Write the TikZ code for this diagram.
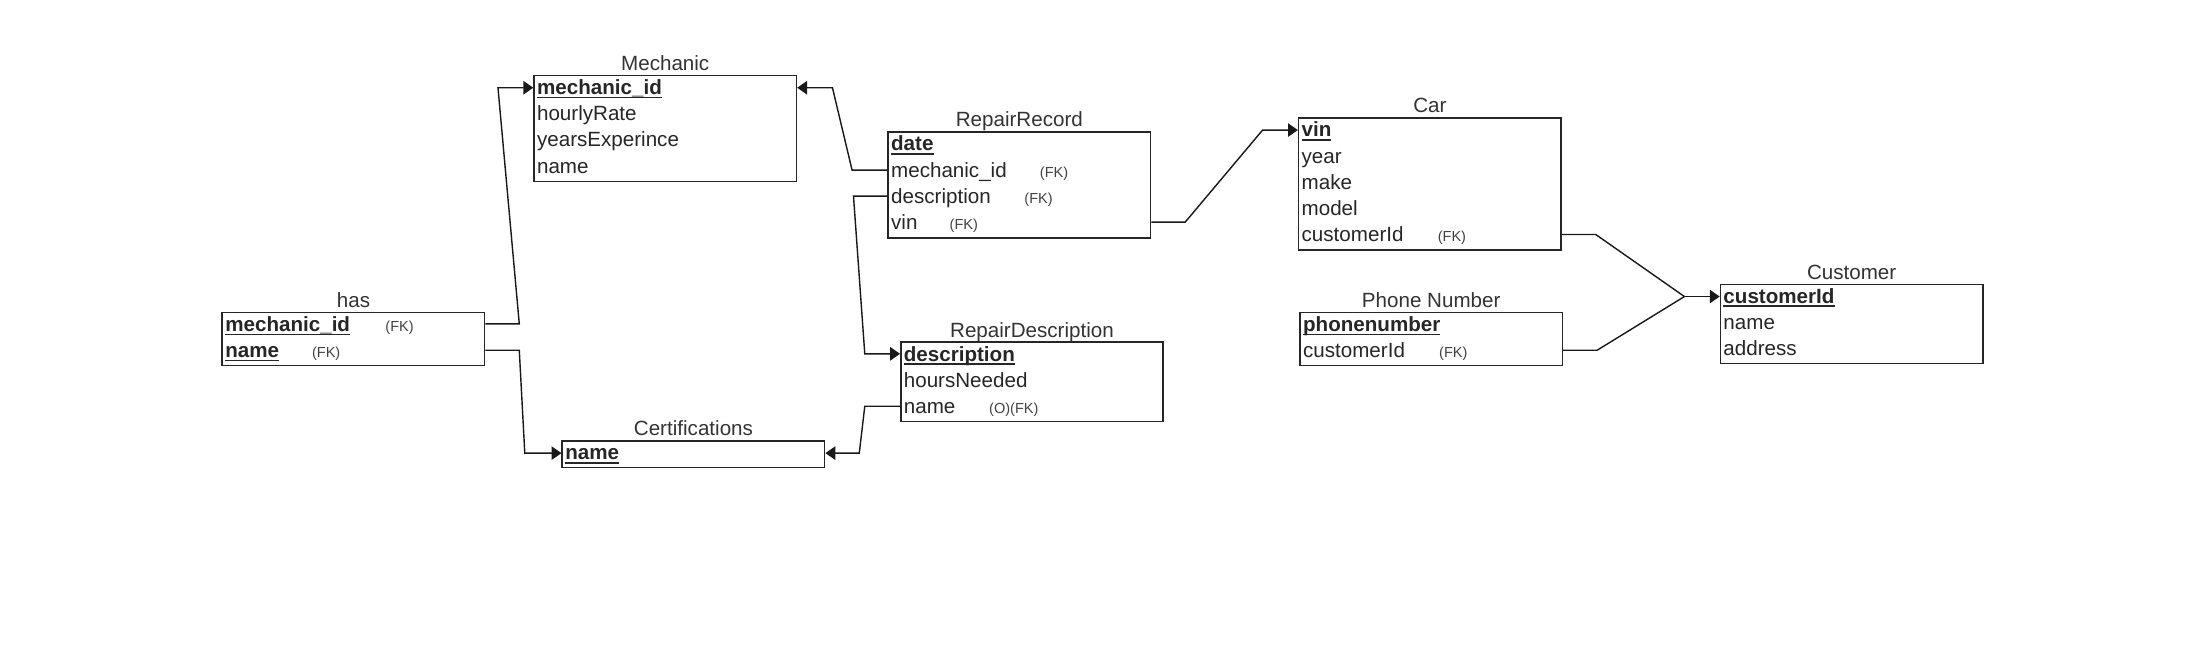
\documentclass[tikz,border=0pt]{standalone}
\usepackage{fontspec}
\setmainfont{Liberation Sans}
\usetikzlibrary{calc,arrows.meta}
\newcommand{\keyf}[1]{\setbox0\hbox{\bfseries #1}\rlap{\rule[-2.6pt]{\wd0}{1.1pt}}\box0}
\tikzset{
  box/.style={draw=black!85, line width=1.1pt, minimum width=186pt, inner sep=0pt, anchor=north west},
  ttl/.style={font=\fontsize{14.6}{15}\selectfont, text=black!80, anchor=base, inner sep=0pt},
  fld/.style={font=\fontsize{14.6}{15}\selectfont, text=black!85, anchor=base west, inner sep=0pt},
  fk/.style={font=\fontsize{10.3}{11}\selectfont, text=black!75, anchor=base west, inner sep=0pt},
  conn/.style={line width=1pt, draw=black!90},
  arr/.style={conn, -{Triangle[length=7pt,width=9.5pt]}}
}
\begin{document}
\begin{tikzpicture}[x=1pt,y=-1pt]
\useasboundingbox (0,0) rectangle (1568,468);
% ---------- Mechanic
\node[box, minimum height=75pt] (mech) at (378,53) {};
\node[ttl] (mech-t) at ($(mech.north)+(0,-3)$) {Mechanic};
\node[fld] (mech-1) at ($(mech.north west)+(2.5,14)$) {\keyf{mechanic\_id}};
\node[fld] (mech-2) at ($(mech.north west)+(2.5,32.6)$) {hourlyRate};
\node[fld] (mech-3) at ($(mech.north west)+(2.5,51.2)$) {yearsExperince};
\node[fld] (mech-4) at ($(mech.north west)+(2.5,69.8)$) {name};
% ---------- has
\node[box, minimum height=37.5pt] (has) at (157,221) {};
\node[ttl] (has-t) at ($(has.north)+(0,-3)$) {has};
\node[fld] (has-1) at ($(has.north west)+(2.5,14)$) {\keyf{mechanic\_id}};
\node[fk] (has-1fk) at ($(has.north west)+(116,14)$) {(FK)};
\node[fld] (has-2) at ($(has.north west)+(2.5,32.6)$) {\keyf{name}};
\node[fk] (has-2fk) at ($(has.north west)+(64,32.6)$) {(FK)};
% ---------- Certifications
\node[box, minimum height=18.75pt] (cert) at (398,312) {};
\node[ttl] (cert-t) at ($(cert.north)+(0,-3)$) {Certifications};
\node[fld] (cert-1) at ($(cert.north west)+(2.5,14)$) {\keyf{name}};
% ---------- RepairRecord
\node[box, minimum height=75pt] (rr) at (629,93) {};
\node[ttl] (rr-t) at ($(rr.north)+(0,-3)$) {RepairRecord};
\node[fld] (rr-1) at ($(rr.north west)+(2.5,14)$) {\keyf{date}};
\node[fld] (rr-2) at ($(rr.north west)+(2.5,32.6)$) {mechanic\_id};
\node[fk] (rr-2fk) at ($(rr.north west)+(108,32.6)$) {(FK)};
\node[fld] (rr-3) at ($(rr.north west)+(2.5,51.2)$) {description};
\node[fk] (rr-3fk) at ($(rr.north west)+(97,51.2)$) {(FK)};
\node[fld] (rr-4) at ($(rr.north west)+(2.5,69.8)$) {vin};
\node[fk] (rr-4fk) at ($(rr.north west)+(44,69.8)$) {(FK)};
% ---------- RepairDescription
\node[box, minimum height=56.25pt] (rd) at (638,242) {};
\node[ttl] (rd-t) at ($(rd.north)+(0,-3)$) {RepairDescription};
\node[fld] (rd-1) at ($(rd.north west)+(2.5,14)$) {\keyf{description}};
\node[fld] (rd-2) at ($(rd.north west)+(2.5,32.6)$) {hoursNeeded};
\node[fld] (rd-3) at ($(rd.north west)+(2.5,51.2)$) {name};
\node[fk] (rd-3fk) at ($(rd.north west)+(63,51.2)$) {(O)(FK)};
% ---------- Car
\node[box, minimum height=93.75pt] (car) at (920,83) {};
\node[ttl] (car-t) at ($(car.north)+(0,-3)$) {Car};
\node[fld] (car-1) at ($(car.north west)+(2.5,14)$) {\keyf{vin}};
\node[fld] (car-2) at ($(car.north west)+(2.5,32.6)$) {year};
\node[fld] (car-3) at ($(car.north west)+(2.5,51.2)$) {make};
\node[fld] (car-4) at ($(car.north west)+(2.5,69.8)$) {model};
\node[fld] (car-5) at ($(car.north west)+(2.5,88.4)$) {customerId};
\node[fk] (car-5fk) at ($(car.north west)+(99,88.4)$) {(FK)};
% ---------- Phone Number
\node[box, minimum height=37.5pt] (ph) at (921,221) {};
\node[ttl] (ph-t) at ($(ph.north)+(0,-3)$) {Phone Number};
\node[fld] (ph-1) at ($(ph.north west)+(2.5,14)$) {\keyf{phonenumber}};
\node[fld] (ph-2) at ($(ph.north west)+(2.5,32.6)$) {customerId};
\node[fk] (ph-2fk) at ($(ph.north west)+(99,32.6)$) {(FK)};
% ---------- Customer
\node[box, minimum height=56.25pt] (cust) at (1219,201) {};
\node[ttl] (cust-t) at ($(cust.north)+(0,-3)$) {Customer};
\node[fld] (cust-1) at ($(cust.north west)+(2.5,14)$) {\keyf{customerId}};
\node[fld] (cust-2) at ($(cust.north west)+(2.5,32.6)$) {name};
\node[fld] (cust-3) at ($(cust.north west)+(2.5,51.2)$) {address};
% ---------- row anchor coordinates
\coordinate (mechL1) at ($(mech.north west)+(0,9.2)$);
\coordinate (mechR1) at ($(mech.north east)+(0,9.2)$);
\coordinate (hasR1) at ($(has.north east)+(0,8.6)$);
\coordinate (hasR2) at ($(has.north east)+(0,27.3)$);
\coordinate (certL1) at ($(cert.north west)+(0,9.2)$);
\coordinate (certR1) at ($(cert.north east)+(0,9.2)$);
\coordinate (rrL2) at ($(rr.north west)+(0,27.6)$);
\coordinate (rrL3) at ($(rr.north west)+(0,46)$);
\coordinate (rrR4) at ($(rr.north east)+(0,64.5)$);
\coordinate (rdL1) at ($(rd.north west)+(0,8.8)$);
\coordinate (rdL3) at ($(rd.north west)+(0,46)$);
\coordinate (carL1) at ($(car.north west)+(0,9.2)$);
\coordinate (carR5) at ($(car.north east)+(0,83.2)$);
\coordinate (phR2) at ($(ph.north east)+(0,27.3)$);
\coordinate (custL1) at ($(cust.north west)+(0,9.2)$);
\coordinate (join) at ($(custL1)+(-25,0)$);
% ---------- connectors
\draw[arr] (hasR1) -- ++(24,0) -- ($(mechL1)+(-25,0)$) -- (mechL1);
\draw[arr] (hasR2) -- ++(24,0) -- ($(certL1)+(-26,0)$) -- (certL1);
\draw[arr] (rrL2) -- ++(-25,0) -- ($(mechR1)+(25,0)$) -- (mechR1);
\draw[arr] (rrL3) -- ++(-24,0) -- ($(rdL1)+(-25,0)$) -- (rdL1);
\draw[arr] (rdL3) -- ++(-25,0) -- ($(certR1)+(24,0)$) -- (certR1);
\draw[arr] (rrR4) -- ++(24,0) -- ($(carL1)+(-25,0)$) -- (carL1);
\draw[conn] (carR5) -- ++(24,0) -- (join);
\draw[conn] (phR2) -- ++(24,0) -- (join);
\draw[arr] (join) -- (custL1);
\end{tikzpicture}
\end{document}
